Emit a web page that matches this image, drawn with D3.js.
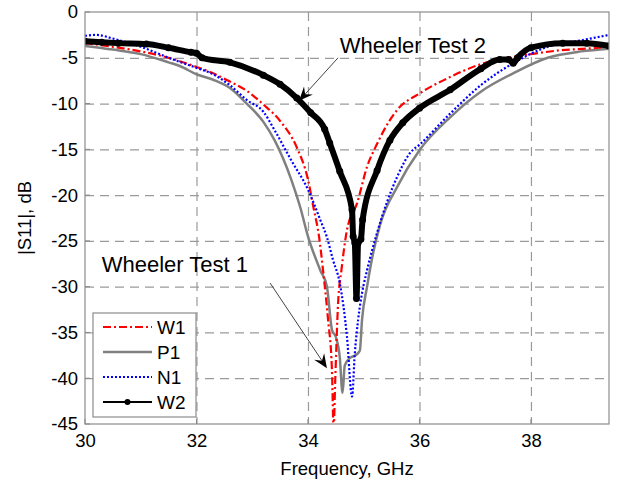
<!DOCTYPE html>
<html>
<head>
<meta charset="utf-8">
<script src="https://cdn.jsdelivr.net/npm/d3@7"></script>
<style>
body { margin: 0; background: #fff; }
svg text { font-family: "Liberation Sans", Arial, sans-serif; fill: #000; }
</style>
</head>
<body>
<svg width="621" height="482"></svg>
<script>
// values (GHz, dB)
var freqW1 = [30.0, 30.5, 31.0, 31.5, 32.0, 32.3, 32.6, 32.9, 33.2, 33.5, 33.8, 34.0, 34.1, 34.2, 34.27, 34.36, 34.43, 34.46, 34.49, 34.54, 34.6, 34.7, 34.88, 35.06, 35.24, 35.47, 35.6, 36.0, 36.55, 37.1, 37.6, 38.0, 38.5, 39.0, 39.4];
var s11W1 = [-3.4, -3.8, -4.3, -5.0, -6.0, -6.7, -7.6, -8.6, -10.1, -11.9, -14.8, -18.3, -21.4, -24.6, -28.2, -33.6, -39.1, -45.5, -40.0, -31.8, -28.2, -23.8, -20.9, -16.9, -14.4, -11.8, -10.7, -8.9, -7.1, -5.7, -5.0, -4.6, -4.2, -4.0, -3.8];

var freqP1 = [30.0, 30.5, 31.0, 31.5, 31.7, 32.0, 32.3, 32.6, 32.9, 33.2, 33.4, 33.7, 33.86, 34.0, 34.22, 34.34, 34.43, 34.5, 34.57, 34.62, 34.66, 34.75, 34.85, 34.93, 34.97, 35.06, 35.17, 35.29, 35.6, 36.0, 36.55, 37.1, 37.68, 38.3, 38.9, 39.4];
var s11P1 = [-3.7, -4.1, -4.6, -5.5, -5.9, -6.8, -7.4, -8.3, -10.0, -12.0, -14.0, -18.3, -21.3, -24.5, -28.2, -30.0, -34.7, -35.5, -37.7, -41.6, -38.6, -37.8, -37.5, -37.0, -33.6, -30.0, -26.3, -23.3, -19.1, -15.1, -11.5, -8.7, -6.7, -5.0, -4.3, -4.0];

var freqN1 = [30.0, 30.2, 30.5, 31.0, 31.5, 32.0, 32.3, 32.6, 32.9, 33.2, 33.4, 33.7, 34.0, 34.22, 34.34, 34.45, 34.57, 34.7, 34.79, 34.84, 34.9, 34.97, 35.06, 35.24, 35.6, 35.83, 36.0, 36.55, 37.1, 37.68, 38.3, 38.9, 39.4];
var s11N1 = [-2.6, -2.5, -2.9, -3.8, -5.0, -6.1, -6.8, -8.0, -9.6, -10.9, -12.9, -16.2, -19.4, -22.7, -24.6, -27.1, -29.6, -35.5, -42.0, -37.3, -33.6, -30.7, -28.2, -24.1, -18.0, -15.4, -14.5, -11.1, -8.0, -5.6, -3.8, -3.1, -2.5];

var freqW2 = [30.0, 30.3, 30.6, 31.1, 31.5, 31.9, 32.0, 32.1, 32.6, 33.2, 33.5, 33.8, 34.05, 34.3, 34.39, 34.57, 34.79, 34.81, 34.84, 34.87, 34.9, 34.95, 34.98, 35.24, 35.47, 35.7, 36.0, 36.55, 37.1, 37.44, 37.6, 37.68, 37.76, 38.0, 38.57, 39.0, 39.4];
var s11W2 = [-3.2, -3.3, -3.4, -3.5, -3.9, -4.4, -4.5, -5.0, -5.5, -6.9, -7.9, -9.4, -11.0, -12.8, -14.3, -17.4, -21.6, -24.5, -25.2, -31.3, -25.2, -24.8, -22.7, -17.3, -14.0, -12.1, -10.5, -8.5, -6.2, -5.2, -5.2, -5.6, -5.0, -3.9, -3.4, -3.4, -3.7];

var xTicks = [30, 32, 34, 36, 38];
var yTicks = [0, -5, -10, -15, -20, -25, -30, -35, -40, -45];
var seriesNames = ['W1', 'P1', 'N1', 'W2'];

var svg = d3.select('svg');
var padding = {top: 12, bottom: 58, right: 12, left: 85};
var myWidth = +svg.attr('width') - padding.left - padding.right;
var myHeight = +svg.attr('height') - padding.top - padding.bottom;

var xScale = d3.scaleLinear().domain([30, 39.4]).range([0, myWidth]);
var yScale = d3.scaleLinear().domain([-45, 0]).range([myHeight, 0]);

var chartG = svg.append('g')
    .attr('transform', 'translate(' + [padding.left, padding.top] + ')');

svg.append('defs').append('clipPath')
    .attr('id', 'plotClip')
    .append('rect')
    .attr('width', myWidth)
    .attr('height', myHeight);

// dashed grid
chartG.append('g')
    .attr('class', 'x grid')
    .call(d3.axisBottom(xScale).tickValues(xTicks.slice(1)).tickSize(myHeight).tickFormat(''))
    .call(function(g) { g.select('.domain').remove(); });
chartG.append('g')
    .attr('class', 'y grid')
    .call(d3.axisRight(yScale).tickValues(yTicks.slice(1, -1)).tickSize(myWidth).tickFormat(''))
    .call(function(g) { g.select('.domain').remove(); });
chartG.selectAll('.grid line')
    .attr('stroke', '#9a9a9a')
    .attr('stroke-width', 1.2)
    .attr('stroke-dasharray', '9,6');

// tick labels
chartG.append('g')
    .attr('transform', 'translate(0,' + myHeight + ')')
    .call(d3.axisBottom(xScale).tickValues(xTicks).tickSize(0).tickPadding(10));
chartG.append('g')
    .call(d3.axisLeft(yScale).tickValues(yTicks).tickSize(0).tickPadding(7)
        .tickFormat(function(d) { return d < 0 ? '-' + Math.abs(d) : d; }));
chartG.selectAll('.domain').remove();
chartG.selectAll('.tick text')
    .attr('font-family', '"Liberation Sans", Arial, sans-serif')
    .attr('font-size', 18.5)
    .attr('fill', '#000');

// inward ticks
chartG.selectAll('.itick-x')
    .data(xTicks)
    .enter()
    .append('line')
    .attr('x1', function(d) { return xScale(d); })
    .attr('x2', function(d) { return xScale(d); })
    .attr('y1', myHeight)
    .attr('y2', myHeight - 5)
    .attr('stroke', '#888');
chartG.selectAll('.itick-y')
    .data(yTicks)
    .enter()
    .append('line')
    .attr('x1', 0)
    .attr('x2', 5)
    .attr('y1', function(d) { return yScale(d); })
    .attr('y2', function(d) { return yScale(d); })
    .attr('stroke', '#888');

var plotG = chartG.append('g').attr('clip-path', 'url(#plotClip)');

function makeLine(freqs) {
    return d3.line()
        .x(function(d, i) { return xScale(freqs[i]); })
        .y(function(d) { return yScale(d); })
        .curve(d3.curveMonotoneX);
}

plotG.append('path')
    .datum(s11P1)
    .attr('d', makeLine(freqP1))
    .attr('fill', 'none')
    .attr('stroke', '#808080')
    .attr('stroke-width', 2.5);

plotG.append('path')
    .datum(s11W1)
    .attr('d', makeLine(freqW1))
    .attr('fill', 'none')
    .attr('stroke', '#ff0000')
    .attr('stroke-width', 2.2)
    .attr('stroke-dasharray', '8,3,2,3');

plotG.append('path')
    .datum(s11N1)
    .attr('d', makeLine(freqN1))
    .attr('fill', 'none')
    .attr('stroke', '#0000ff')
    .attr('stroke-width', 2.2)
    .attr('stroke-dasharray', '2,2');

plotG.append('path')
    .datum(s11W2)
    .attr('d', makeLine(freqW2))
    .attr('fill', 'none')
    .attr('stroke', '#000')
    .attr('stroke-width', 6)
    .attr('stroke-linejoin', 'round');
plotG.selectAll('.w2dot')
    .data(s11W2)
    .enter()
    .append('circle')
    .attr('class', 'w2dot')
    .attr('cx', function(d, i) { return xScale(freqW2[i]); })
    .attr('cy', function(d) { return yScale(d); })
    .attr('r', 3.5)
    .attr('fill', '#000');

// frame
chartG.append('rect')
    .attr('width', myWidth)
    .attr('height', myHeight)
    .attr('fill', 'none')
    .attr('stroke', '#8c8c8c')
    .attr('stroke-width', 1.2);

// annotations with arrows
var notes = [
    {text: 'Wheeler Test 1', tx: 30.3, ty: -28.4, x1: 33.32, y1: -29.6, x2: 34.34, y2: -38.9},
    {text: 'Wheeler Test 2', tx: 34.57, ty: -4.5, x1: 34.54, y1: -5.0, x2: 33.84, y2: -9.7}
];
notes.forEach(function(n) {
    var ax = xScale(n.x1), ay = yScale(n.y1), bx = xScale(n.x2), by = yScale(n.y2);
    var len = Math.sqrt((bx - ax) * (bx - ax) + (by - ay) * (by - ay));
    var ux = (bx - ax) / len, uy = (by - ay) / len;
    chartG.append('line')
        .attr('x1', ax).attr('y1', ay)
        .attr('x2', bx - ux * 8).attr('y2', by - uy * 8)
        .attr('stroke', '#444')
        .attr('stroke-width', 1);
    var hl = 14, hw = 6, notch = 9;
    var pts = [
        [bx, by],
        [bx - ux * hl - uy * hw, by - uy * hl + ux * hw],
        [bx - ux * notch, by - uy * notch],
        [bx - ux * hl + uy * hw, by - uy * hl - ux * hw]
    ];
    chartG.append('path')
        .attr('d', 'M' + pts.join('L') + 'Z')
        .attr('fill', '#000');
    chartG.append('text')
        .attr('x', xScale(n.tx))
        .attr('y', yScale(n.ty))
        .attr('font-size', 22)
        .text(n.text);
});

// legend
var legendG = chartG.append('g')
    .attr('transform', 'translate(' + [8, 301] + ')');
legendG.append('rect')
    .attr('width', 103)
    .attr('height', 104)
    .attr('fill', '#fff')
    .attr('stroke', '#8c8c8c')
    .attr('stroke-width', 1.2);
var legendStyles = {
    W1: {color: '#ff0000', dash: '8,3,2,3', width: 2.2},
    P1: {color: '#808080', dash: null, width: 2.5},
    N1: {color: '#0000ff', dash: '2,2', width: 2.2},
    W2: {color: '#000', dash: null, width: 2}
};
seriesNames.forEach(function(name, i) {
    var yy = 14 + i * 25;
    var st = legendStyles[name];
    legendG.append('line')
        .attr('x1', 10).attr('x2', 59)
        .attr('y1', yy).attr('y2', yy)
        .attr('stroke', st.color)
        .attr('stroke-width', st.width)
        .attr('stroke-dasharray', st.dash);
    if (name === 'W2') {
        legendG.append('circle')
            .attr('cx', 34.5).attr('cy', yy)
            .attr('r', 3).attr('fill', '#000');
    }
    legendG.append('text')
        .attr('x', 64)
        .attr('y', yy + 7)
        .attr('font-size', 19)
        .text(name);
});

// axis titles
svg.append('text')
    .attr('x', padding.left + myWidth / 2)
    .attr('y', 475)
    .attr('text-anchor', 'middle')
    .attr('font-size', 18.5)
    .text('Frequency, GHz');
svg.append('text')
    .attr('transform', 'translate(31,' + (padding.top + myHeight / 2) + ') rotate(-90)')
    .attr('text-anchor', 'middle')
    .attr('font-size', 18.5)
    .text('|S11|, dB');
</script>
</body>
</html>
